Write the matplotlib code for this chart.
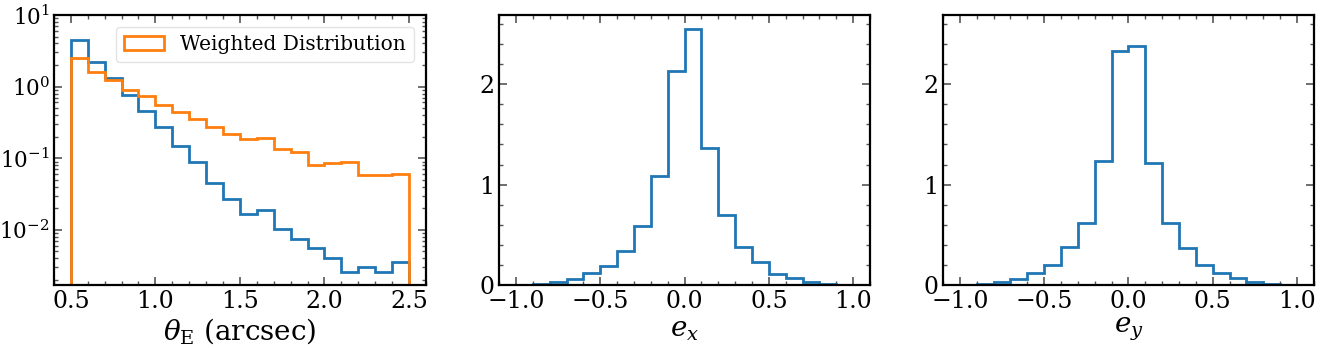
import numpy as np
import matplotlib
matplotlib.use("Agg")
import matplotlib.pyplot as plt

plt.rcParams["font.family"] = ["DejaVu Serif"]
plt.rcParams["mathtext.fontset"] = "dejavuserif"

# theta_E histogram (density), bins of 0.1 arcsec
theta_edges = np.linspace(0.5, 2.5, 21)
theta_raw = [4.51, 2.18, 1.33, 0.774, 0.463, 0.269, 0.148, 0.0894, 0.0451, 0.0267,
             0.0167, 0.0188, 0.0104, 0.00757, 0.00556, 0.00403, 0.00255, 0.00299,
             0.00255, 0.00351]
theta_weighted = [2.53, 1.60, 1.25, 0.889, 0.741, 0.556, 0.444, 0.351, 0.277, 0.215,
                  0.185, 0.193, 0.134, 0.123, 0.0803, 0.0865, 0.0894, 0.0583,
                  0.0583, 0.0608]

# ellipticity components, bins of 0.1
e_edges = np.linspace(-1.0, 1.0, 21)
ex_vals = [0.005, 0.013, 0.033, 0.06, 0.12, 0.19, 0.34, 0.59, 1.085, 2.13,
           2.55, 1.364, 0.702, 0.376, 0.226, 0.113, 0.067, 0.027, 0.01, 0.003]
ey_vals = [0.003, 0.01, 0.027, 0.063, 0.116, 0.2, 0.376, 0.622, 1.231, 2.336,
           2.376, 1.215, 0.622, 0.373, 0.203, 0.12, 0.067, 0.03, 0.01, 0.003]

blue = "#1f77b4"
orange = "#ff7f0e"


def style_axis(ax):
    ax.minorticks_on()
    ax.tick_params(which="both", direction="in", top=True, right=True,
                   color="#555555", labelsize=17)
    ax.tick_params(which="major", length=6, width=1.2)
    ax.tick_params(which="minor", length=3, width=1.0)
    for sp in ax.spines.values():
        sp.set_linewidth(1.6)


fig = plt.figure(figsize=(13.22, 3.48), dpi=100)
ax1 = fig.add_axes([0.0408, 0.181, 0.2814, 0.776])
ax2 = fig.add_axes([0.3775, 0.181, 0.2806, 0.776])
ax3 = fig.add_axes([0.7133, 0.181, 0.2806, 0.776])

centers = 0.5 * (theta_edges[:-1] + theta_edges[1:])
ax1.hist(centers, bins=theta_edges, weights=theta_raw, histtype="step",
         color=blue, lw=2)
ax1.hist(centers, bins=theta_edges, weights=theta_weighted, histtype="step",
         color=orange, lw=2, label="Weighted Distribution")
ax1.set_yscale("log")
ax1.set_ylim(1.7e-3, 10)
ax1.set_xlim(0.4, 2.6)
ax1.set_xlabel(r"$\theta_{\rm E}$ (arcsec)", fontsize=20, labelpad=2)
ax1.legend(loc="upper right", fontsize=14.5, edgecolor="#dddddd",
           borderaxespad=0.6)
style_axis(ax1)
ax1.tick_params(axis="y", which="both", labelsize=15.5, pad=3)

e_centers = 0.5 * (e_edges[:-1] + e_edges[1:])
ax2.hist(e_centers, bins=e_edges, weights=ex_vals, histtype="step",
         color=blue, lw=2)
ax2.set_xlabel(r"$e_x$", fontsize=20, labelpad=2)
style_axis(ax2)

ax3.hist(e_centers, bins=e_edges, weights=ey_vals, histtype="step",
         color=blue, lw=2)
ax3.set_xlabel(r"$e_y$", fontsize=20, labelpad=2)
style_axis(ax3)

for ax in (ax2, ax3):
    ax.set_xlim(-1.1, 1.1)
    ax.set_ylim(0, 2.69)
    ax.set_yticks([0, 1, 2])
    ax.yaxis.set_minor_locator(matplotlib.ticker.MultipleLocator(0.2))
    ax.xaxis.set_minor_locator(matplotlib.ticker.MultipleLocator(0.1))
ax1.xaxis.set_minor_locator(matplotlib.ticker.MultipleLocator(0.1))

fig.savefig("out.png", dpi=100)
